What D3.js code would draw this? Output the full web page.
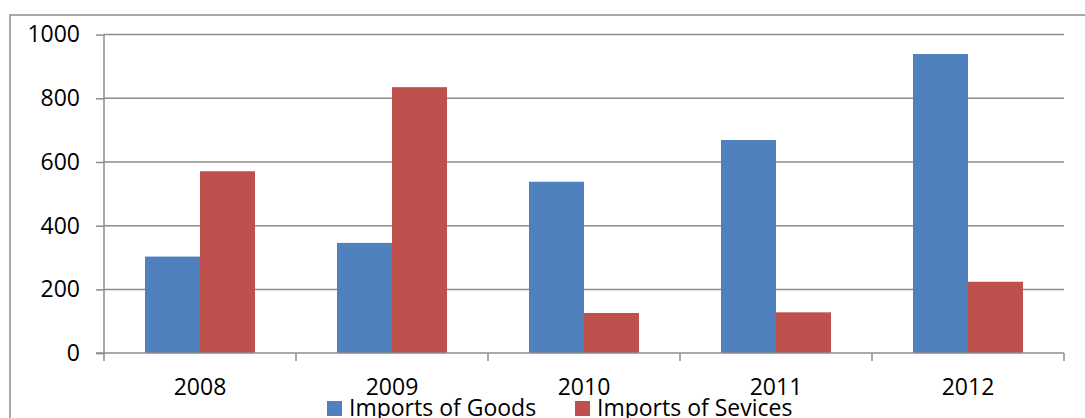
<!DOCTYPE html>
<html><head><meta charset="utf-8">
<script src="https://cdn.jsdelivr.net/npm/d3@7"></script>
<style>body{margin:0;background:#fff;overflow:hidden}svg{display:block}text{font-family:"Open Sans",sans-serif;fill:#000}</style>
</head><body>
<svg id="c" width="1085" height="418"></svg>
<script>
const years = ["2008","2009","2010","2011","2012"];
const seriesNames = ["Imports of Goods","Imports of Sevices"];
const goods = [303, 346, 538, 669, 939];
const services = [571, 835, 126, 128, 224];
const yTicks = [0, 200, 400, 600, 800, 1000];
const colors = ["#4F81BD", "#C0504D"];

const svg = d3.select("#c");
const L = 104, R = 1064, T = 34.6, B = 353.1;
const FS = 23;

svg.append("rect").attr("x",10).attr("y",15).attr("width",1100).attr("height",420)
  .attr("fill","none").attr("stroke","#8c8c8c").attr("stroke-width",1.5);

const x0 = d3.scaleBand().domain(years).range([L,R]).paddingInner(0.427).paddingOuter(0.2135);
const x1 = d3.scaleBand().domain(seriesNames).range([0,x0.bandwidth()]);
const y = d3.scaleLinear().domain([0,1000]).range([B,T]);

// gridlines
svg.append("g").selectAll("line").data(yTicks.filter(d=>d>0)).join("line")
  .attr("x1",L).attr("x2",R).attr("y1",d=>y(d)).attr("y2",d=>y(d))
  .attr("stroke","#8c8c8c").attr("stroke-width",1.5);

// bars
const data = years.map((yr,i)=>({yr, vals:[goods[i], services[i]]}));
const g = svg.append("g").selectAll("g").data(data).join("g")
  .attr("transform",d=>`translate(${x0(d.yr)},0)`);
g.selectAll("rect").data(d=>d.vals.map((v,j)=>({v,j}))).join("rect")
  .attr("x",d=>x1(seriesNames[d.j])).attr("width",x1.bandwidth())
  .attr("y",d=>y(d.v)).attr("height",d=>B-y(d.v))
  .attr("fill",d=>colors[d.j]);

// y axis
const yAxis = d3.axisLeft(y).tickValues(yTicks).tickFormat(d3.format("d")).tickSize(8).tickPadding(16);
const ya = svg.append("g").attr("transform",`translate(${L},0)`).call(yAxis);
ya.select(".domain").attr("stroke","#8c8c8c").attr("stroke-width",1.5).attr("d",`M0,${T}V${B}`);
ya.selectAll(".tick line").attr("stroke","#8c8c8c").attr("stroke-width",1.5);
ya.selectAll(".tick text").attr("font-size",FS).attr("font-family","Open Sans").attr("fill","#000");

// x axis
const xa = svg.append("g").attr("transform",`translate(0,${B})`);
xa.append("line").attr("x1",L-8).attr("x2",R).attr("y1",0).attr("y2",0).attr("stroke","#8c8c8c").attr("stroke-width",1.5);
const bounds = years.map((d,i)=>L + i*x0.step()).concat([R]);
xa.selectAll("line.t").data(bounds).join("line").attr("class","t")
  .attr("x1",d=>d).attr("x2",d=>d).attr("y1",0).attr("y2",8)
  .attr("stroke","#8c8c8c").attr("stroke-width",1.5);
xa.selectAll("text").data(years).join("text")
  .attr("x",d=>x0(d)+x0.bandwidth()/2).attr("y",42)
  .attr("text-anchor","middle").attr("font-size",FS).text(d=>d);

// legend
const legX = [327, 575];
const lg = svg.append("g").selectAll("g").data(seriesNames).join("g")
  .attr("transform",(d,i)=>`translate(${legX[i]},0)`);
lg.append("rect").attr("x",0).attr("y",401).attr("width",15).attr("height",15).attr("fill",(d,i)=>colors[i]);
lg.append("text").attr("x",22).attr("y",416).attr("font-size",FS).text(d=>d);
</script>
</body></html>
